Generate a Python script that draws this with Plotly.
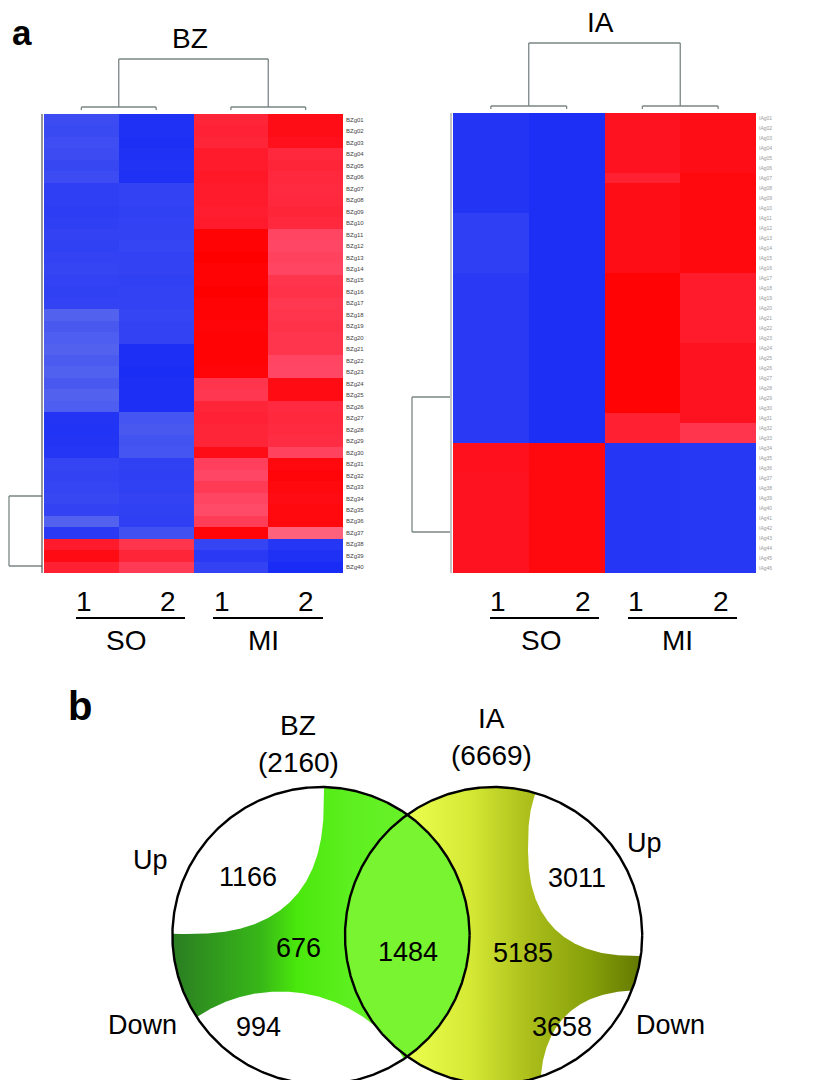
import numpy as np
import plotly.graph_objects as go

# page is shown with an 8px body margin: work in page pixels, draw on an 800x1072 figure
OFF = 8
W, H = 800, 1072

# ------------------------------------------------------------------ data
columns = ["SO 1", "SO 2", "MI 1", "MI 2"]

# BZ heatmap, 40 gene rows (top -> bottom), scaled expression
bz_so1 = [-0.82, -0.83, -0.81, -0.82, -0.84, -0.82, -0.88, -0.88, -0.89, -0.88,
          -0.86, -0.87, -0.86, -0.85, -0.86, -0.87, -0.86, -0.72, -0.76, -0.74,
          -0.72, -0.75, -0.73, -0.76, -0.72, -0.74, -0.93, -0.94, -0.93, -0.92,
          -0.85, -0.86, -0.85, -0.84, -0.86, -0.72, -0.90, 0.90, 0.96, 0.88]
bz_so2 = [-0.95, -0.95, -0.96, -0.95, -0.94, -0.95, -0.86, -0.86, -0.87, -0.86,
          -0.86, -0.85, -0.86, -0.86, -0.87, -0.86, -0.86, -0.85, -0.86, -0.86,
          -0.96, -0.96, -0.97, -0.96, -0.96, -0.96, -0.78, -0.76, -0.79, -0.78,
          -0.87, -0.88, -0.87, -0.86, -0.87, -0.88, -0.80, 0.80, 0.86, 0.78]
bz_mi1 = [0.86, 0.87, 0.86, 0.90, 0.90, 0.91, 0.90, 0.90, 0.89, 0.90,
          0.99, 0.99, 1.00, 0.99, 0.99, 1.00, 0.99, 0.99, 0.98, 0.99,
          0.99, 0.99, 0.98, 0.80, 0.79, 0.86, 0.87, 0.86, 0.86, 0.95,
          0.76, 0.73, 0.78, 0.74, 0.72, 0.77, 0.98, -0.85, -0.90, -0.86]
bz_mi2 = [0.95, 0.95, 0.94, 0.85, 0.86, 0.85, 0.84, 0.85, 0.86, 0.85,
          0.74, 0.73, 0.75, 0.74, 0.80, 0.81, 0.79, 0.80, 0.81, 0.80,
          0.80, 0.74, 0.73, 0.96, 0.96, 0.84, 0.85, 0.84, 0.83, 0.75,
          0.97, 0.98, 0.97, 0.96, 0.97, 0.97, 0.62, -0.92, -0.95, -0.98]
bz_genes = ["BZg%02d" % (i + 1) for i in range(len(bz_so1))]

# IA heatmap, 46 gene rows (top -> bottom)
ia_so1 = [-0.93] * 10 + [-0.88] * 6 + [-0.90] * 17 + [0.94] * 3 + [0.93] * 10
ia_so2 = [-0.96] * 33 + [0.97] * 13
ia_mi1 = [0.93] * 6 + [0.88] + [0.95] * 9 + [0.99] * 14 + [0.88] * 3 + [-0.92] * 13
ia_mi2 = [0.95] * 6 + [0.97] * 10 + [0.90] * 7 + [0.93] * 8 + [0.80] * 2 + [-0.91] * 13
ia_genes = ["IAg%02d" % (i + 1) for i in range(len(ia_so1))]

# Venn counts
bz_total, ia_total = 2160, 6669
bz_up, bz_mid, bz_down = 1166, 676, 994
shared = 1484
ia_up, ia_mid, ia_down = 3011, 5185, 3658

# ------------------------------------------------------------------ styles
FONT = "Liberation Sans, Arial, sans-serif"
colorscale = [[0.0, "#1428f5"], [0.04, "#2536f5"], [0.14, "#5262ef"],
              [0.5, "#f0f0f0"], [0.86, "#ff4a68"], [0.96, "#ff1525"], [1.0, "#ff0000"]]
DENDRO = "#7a8585"

# page-pixel geometry of the two heatmaps
BZ_BOX = (44, 343, 114, 573)
IA_BOX = (453, 756, 113, 573)


def dom(box):
    x0, x1, y0, y1 = box
    return ([(x0 - OFF) / W, (x1 - OFF) / W],
            [1 - (y1 - OFF) / H, 1 - (y0 - OFF) / H])


fig = go.Figure()


def heat(z_cols, genes, xa, ya):
    z = np.array(z_cols).T
    fig.add_trace(go.Heatmap(z=z, x=columns, y=genes, colorscale=colorscale,
                             zmin=-1, zmax=1, showscale=False, xaxis=xa, yaxis=ya,
                             hoverinfo="skip"))


heat([bz_so1, bz_so2, bz_mi1, bz_mi2], bz_genes, "x", "y")
heat([ia_so1, ia_so2, ia_mi1, ia_mi2], ia_genes, "x2", "y2")


def seg_trace(xs, ys, color, width):
    fig.add_trace(go.Scatter(x=xs, y=ys, mode="lines", xaxis="x3", yaxis="y3",
                             line=dict(color=color, width=width), hoverinfo="skip",
                             showlegend=False, cliponaxis=False))


def segs(lst):
    xs, ys = [], []
    for (a, b, c, d) in lst:
        xs += [a, c, None]
        ys += [b, d, None]
    return xs, ys


# ------------------------------------------------------------------ Venn
L = (321.0, 935.6, 148.6)
R = (493.6, 935.6, 148.6)


def circ(c, n=720):
    t = np.linspace(0, 2 * np.pi, n)
    return c[0] + c[2] * np.cos(t), c[1] + c[2] * np.sin(t)


def sel(cx, cy, a, b, p, n=720):
    t = np.linspace(0, 2 * np.pi, n)
    co, si = np.cos(t), np.sin(t)
    return (cx + a * np.sign(co) * np.abs(co) ** (2 / p),
            cy + b * np.sign(si) * np.abs(si) ** (2 / p))


def in_c(c):
    return lambda x, y: (x - c[0]) ** 2 + (y - c[1]) ** 2 <= c[2] ** 2 + 1e-6


def in_s(cx, cy, a, b, p):
    return lambda x, y: np.abs((x - cx) / a) ** p + np.abs((y - cy) / b) ** p <= 1 + 1e-9


def inter(p1, f1, p2, f2):
    x1, y1 = p1
    x2, y2 = p2
    m1 = f2(x1, y1)
    m2 = f1(x2, y2)
    xs = np.concatenate([x1[m1], x2[m2]])
    ys = np.concatenate([y1[m1], y2[m2]])
    mx, my = xs.mean(), ys.mean()
    o = np.argsort(np.arctan2(ys - my, xs - mx))
    xs, ys = xs[o], ys[o]
    return np.append(xs, xs[0]), np.append(ys, ys[0])


def poly(xy, **kw):
    fig.add_trace(go.Scatter(x=list(xy[0]), y=list(xy[1]), mode="lines", fill="toself",
                             line=dict(width=0), xaxis="x3", yaxis="y3",
                             hoverinfo="skip", showlegend=False, **kw))


# right circle (yellow -> olive)
poly(circ(R), fillgradient=dict(type="horizontal", start=405, stop=642,
     colorscale=[[0, "#ecff50"], [0.28, "#d4e834"], [0.53, "#aabd1a"],
                 [0.78, "#86a00a"], [1, "#627800"]]))
# left circle (dark green -> bright green)
poly(circ(L), fillgradient=dict(type="horizontal", start=172, stop=470,
     colorscale=[[0, "#2a7d22"], [0.3, "#38b818"], [0.42, "#4ae80c"],
                 [0.6, "#5ef020"], [1, "#74f232"]]))
# white cut-outs
cut_specs = [(L, (183, 793, 141, 141, 2.6)),
             (L, (280, 1140, 148.5, 148.5, 2.0)),
             (R, (640, 846, 112, 110, 2.5)),
             (R, (650, 1100, 110, 110, 2.6))]
for c, s in cut_specs:
    poly(inter(circ(c), in_c(c), sel(*s), in_s(*s)), fillcolor="white")
# lens
poly(inter(circ(L), in_c(L), circ(R), in_c(R)), fillcolor="#78f430")
# outlines
for c in (L, R):
    x, y = circ(c)
    seg_trace(list(x), list(y), "black", 2.4)


# ------------------------------------------------------------------ dendrograms
def col_dendro(box, y_sub, y_top, y_leaf):
    x0, x1, _, _ = box
    cw = (x1 - x0) / 4
    c = [x0 + (i + 0.5) * cw for i in range(4)]
    m1, m2 = (c[0] + c[1]) / 2, (c[2] + c[3]) / 2
    s = [(c[0], y_sub, c[1], y_sub), (c[2], y_sub, c[3], y_sub),
         (c[0], y_sub, c[0], y_leaf), (c[1], y_sub, c[1], y_leaf),
         (c[2], y_sub, c[2], y_leaf), (c[3], y_sub, c[3], y_leaf),
         (m1, y_sub, m1, y_top), (m2, y_sub, m2, y_top), (m1, y_top, m2, y_top)]
    xs, ys = segs(s)
    seg_trace(xs, ys, DENDRO, 1.3)


col_dendro(BZ_BOX, 107, 59, 110)
col_dendro(IA_BOX, 106, 43, 109)

xs, ys = segs([(9, 496, 9, 566), (9, 496, 42, 496), (9, 566, 42, 566)])
seg_trace(xs, ys, DENDRO, 1.3)
xs, ys = segs([(412, 397, 412, 532), (412, 397, 450, 397), (412, 532, 450, 532)])
seg_trace(xs, ys, DENDRO, 1.3)
xs, ys = segs([(42, 114, 42, 573)])
seg_trace(xs, ys, "#333333", 1)
xs, ys = segs([(451, 113, 451, 573)])
seg_trace(xs, ys, "#888888", 1)

# group underlines
xs, ys = segs([(76, 618, 185, 618), (213, 618, 323, 618),
               (490, 618, 599, 618), (628, 618, 737, 618)])
seg_trace(xs, ys, "black", 2)

# ------------------------------------------------------------------ text
ann = []


def t(x, y, s, size=28, bold=False):
    ann.append(dict(x=x, y=y, xref="x3", yref="y3", text=("<b>%s</b>" % s) if bold else s,
                    showarrow=False, xanchor="center", yanchor="middle",
                    font=dict(family=FONT, size=size, color="black")))


t(22, 32, "a", 35, True)
t(80, 706, "b", 40, True)
t(190, 38, "BZ")
t(600, 22, "IA")
for (x1, x2, xg, lab) in [(84, 168, 126, "SO"), (222, 306, 263, "MI"),
                          (498, 583, 541, "SO"), (636, 721, 677, "MI")]:
    t(x1, 601, "1")
    t(x2, 601, "2")
    t(xg, 640, lab)

t(298, 725, "BZ")
t(298, 762, "(%d)" % bz_total)
t(491, 718, "IA")
t(491, 755, "(%d)" % ia_total)
t(150, 860, "Up", 27)
t(644, 843, "Up", 27)
t(142, 1025, "Down", 27)
t(670, 1025, "Down", 27)
t(248, 877, str(bz_up), 27)
t(298, 948, str(bz_mid), 27)
t(258, 1027, str(bz_down), 27)
t(408, 952, str(shared), 27)
t(523, 953, str(ia_mid), 27)
t(577, 878, str(ia_up), 27)
t(562, 1027, str(ia_down), 27)

bx, by = dom(BZ_BOX)
ix, iy = dom(IA_BOX)
hid = dict(visible=False, fixedrange=True)
fig.update_layout(
    width=W, height=H, margin=dict(l=0, r=0, t=0, b=0),
    paper_bgcolor="white", plot_bgcolor="rgba(0,0,0,0)", showlegend=False,
    font=dict(family=FONT),
    xaxis=dict(domain=bx, anchor="y", **hid),
    yaxis=dict(domain=by, anchor="x", autorange="reversed", side="right",
               showticklabels=True, ticks="", showgrid=False, zeroline=False,
               showline=False, ticklabelstandoff=2,
               tickfont=dict(size=6, color="#444444", family=FONT)),
    xaxis2=dict(domain=ix, anchor="y2", **hid),
    yaxis2=dict(domain=iy, anchor="x2", autorange="reversed", side="right",
                showticklabels=True, ticks="", showgrid=False, zeroline=False,
                showline=False, ticklabelstandoff=2,
                tickfont=dict(size=5, color="#999999", family=FONT)),
    xaxis3=dict(domain=[0, 1], anchor="y3", range=[OFF, OFF + W], **hid),
    yaxis3=dict(domain=[0, 1], anchor="x3", range=[OFF + H, OFF], **hid),
    annotations=ann,
)
fig.write_html("out.html")
